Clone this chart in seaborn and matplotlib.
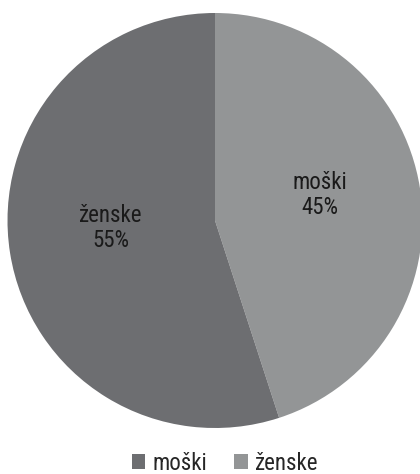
import numpy as np
import matplotlib
matplotlib.use("Agg")
import matplotlib.pyplot as plt
from matplotlib.patches import Patch
import seaborn as sns

# data
labels = ["moški", "ženske"]
shares = [45, 55]
slice_colors = ["#939596", "#6d6e71"]
# the reference legend shows the swatches the other way round
legend_colors = ["#6d6e71", "#939596"]

sns.set_theme(style="white")
plt.rcParams["font.family"] = ["Liberation Sans Narrow", "Roboto Condensed", "DejaVu Sans"]

W, H = 420, 474
fig = plt.figure(figsize=(W / 100, H / 100), dpi=100)
# pie centre (215, 220.5) px, radius 207.5 px
cx, cy, r = 215, 220.5, 207.5
ax = fig.add_axes([(cx - r) / W, 1 - (cy + r) / H, 2 * r / W, 2 * r / H])

wedges, _ = ax.pie(shares, colors=slice_colors, startangle=90, counterclock=False,
                   radius=1, wedgeprops=dict(linewidth=0))
ax.set_xlim(-1, 1)
ax.set_ylim(-1, 1)
ax.set_aspect("equal")
ax.axis("off")

for w, lab, val in zip(wedges, labels, shares):
    mid = np.deg2rad((w.theta1 + w.theta2) / 2)
    x = 0.51 * np.cos(mid)
    y = 0.51 * np.sin(mid) + 0.045
    ax.text(x, y, f"{lab}\n{val}%", ha="center", va="center", fontsize=16.5,
            color="#1a1a1a", linespacing=1.1)

handles = [Patch(facecolor=c, edgecolor="none") for c in legend_colors]
fig.legend(handles, labels, loc="center", bbox_to_anchor=(0.536, 0.023), ncol=2,
           frameon=False, fontsize=16.5, handlelength=0.6, handleheight=0.6,
           handletextpad=0.3, columnspacing=1.2, borderaxespad=0, borderpad=0)

fig.savefig("out.png", dpi=100)
